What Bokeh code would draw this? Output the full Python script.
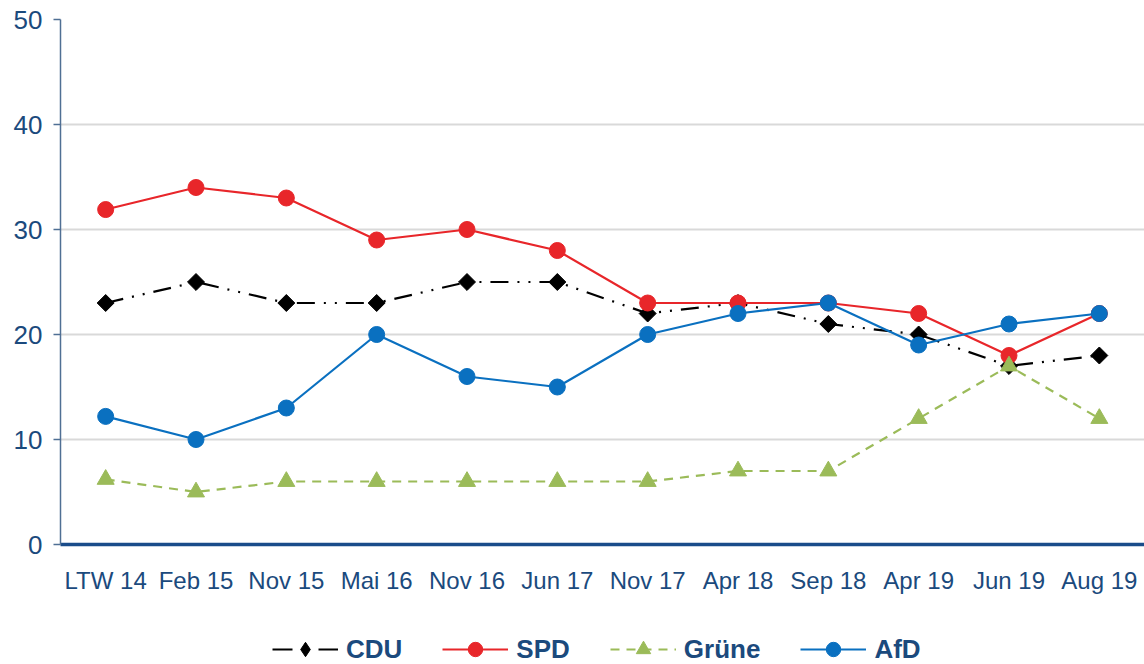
import math
from bokeh.plotting import figure
from bokeh.layouts import column
from bokeh.models import Range1d, FactorRange, Legend, LegendItem
from bokeh.embed import file_html
from bokeh.resources import INLINE

categories = ["LTW 14", "Feb 15", "Nov 15", "Mai 16", "Nov 16", "Jun 17",
              "Nov 17", "Apr 18", "Sep 18", "Apr 19", "Jun 19", "Aug 19"]
cdu = [23, 25, 23, 23, 25, 25, 22, 23, 21, 20, 17, 18]
spd = [31.9, 34, 33, 29, 30, 28, 23, 23, 23, 22, 18, 22]
gruene = [6.2, 5, 6, 6, 6, 6, 6, 7, 7, 12, 17, 12]
afd = [12.2, 10, 13, 20, 16, 15, 20, 22, 23, 19, 21, 22]
y_ticks = [0, 10, 20, 30, 40, 50]

FONT = "Liberation Sans"
BLUE_TXT = "#1b4a7d"
W = 1144

p = figure(x_range=FactorRange(*categories), y_range=Range1d(0, 50),
           width=W, height=596, output_backend="svg", toolbar_location=None,
           min_border_left=60, min_border_right=0, min_border_top=19,
           min_border_bottom=49)
p.outline_line_color = None
p.background_fill_color = "white"
p.border_fill_color = "white"

p.xgrid.grid_line_color = None
p.ygrid.grid_line_color = "#d9d9d9"
p.ygrid.grid_line_width = 2
p.yaxis.ticker = y_ticks

p.yaxis.axis_line_color = "#4f6f94"
p.yaxis.axis_line_width = 1.5
p.yaxis.major_tick_line_color = "#4f6f94"
p.yaxis.major_tick_line_width = 1.5
p.yaxis.major_tick_out = 7
p.yaxis.major_tick_in = 0
p.yaxis.minor_tick_line_color = None
p.yaxis.major_label_standoff = 11
p.yaxis.major_label_text_font = FONT
p.yaxis.major_label_text_font_size = "26px"
p.yaxis.major_label_text_color = BLUE_TXT

p.xaxis.axis_line_color = "#1a4c8a"
p.xaxis.axis_line_width = 3.5
p.xaxis.major_tick_line_color = None
p.xaxis.minor_tick_line_color = None
p.xaxis.major_label_standoff = 16
p.xaxis.major_label_text_font = FONT
p.xaxis.major_label_text_font_size = "24px"
p.xaxis.major_label_text_color = BLUE_TXT

series = [
    ("CDU", cdu, "black", "18 9 2 9 2 9", "20 26", "square", 12, math.pi / 4, "diamond"),
    ("SPD", spd, "#e8262a", "solid", "solid", "circle", 16, 0, "circle"),
    ("Grüne", gruene, "#9bbb59", "9 7", "9 7", "triangle", 17, 0, "triangle"),
    ("AfD", afd, "#0a70c0", "solid", "solid", "circle", 16, 0, "circle"),
]

# legend strip (separate figure below the chart); its data lies outside its
# visible y-range, so only the legend entries show
p2 = figure(x_range=FactorRange(*categories), y_range=Range1d(-100, -99),
            width=W, height=68, output_backend="svg", toolbar_location=None,
            x_axis_type=None, y_axis_type=None,
            min_border_left=0, min_border_right=0, min_border_top=0,
            min_border_bottom=0)
p2.outline_line_color = None
p2.xgrid.grid_line_color = None
p2.ygrid.grid_line_color = None

items = []
for name, vals, col, dash, ldash, marker, size, ang, lmarker in series:
    p.line(categories, vals, line_color=col, line_width=2.2, line_dash=dash)
    p.scatter(categories, vals, marker=marker, size=size, angle=ang,
              fill_color=col, line_color=col)
    ll = p2.line(categories, vals, line_color=col, line_width=2.2, line_dash=ldash)
    lm = p2.scatter(categories, vals, marker=lmarker, size=16, fill_color=col,
                    line_color=col)
    items.append(LegendItem(label=name, renderers=[ll, lm]))

legend = Legend(items=items, orientation="horizontal", location=(212, -3))
legend.label_text_font = FONT
legend.label_text_font_style = "bold"
legend.label_text_font_size = "26px"
legend.label_text_color = BLUE_TXT
legend.glyph_width = 66
legend.glyph_height = 36
legend.label_standoff = 8
legend.spacing = 40
legend.padding = 2
legend.margin = 0
legend.border_line_color = None
legend.background_fill_alpha = 0
p2.add_layout(legend, "center")

open("out.html", "w").write(file_html(column(p, p2, spacing=0), INLINE))
